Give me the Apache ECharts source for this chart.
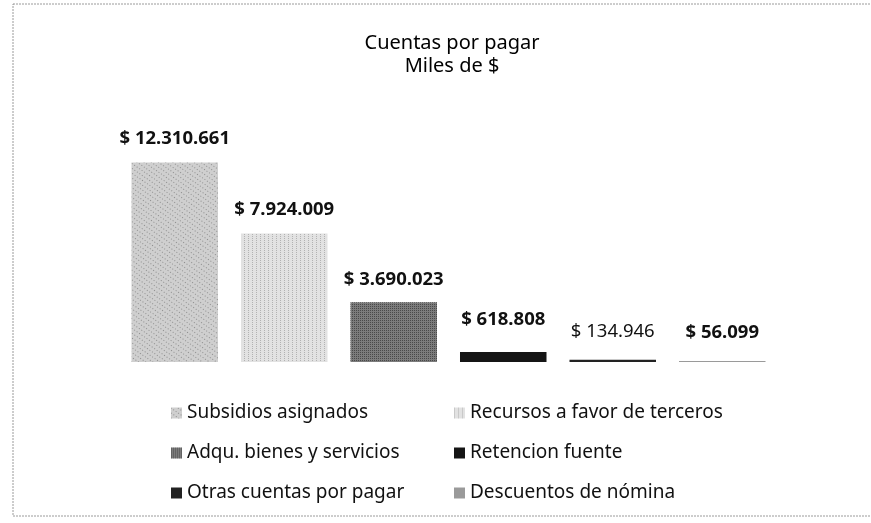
<!DOCTYPE html>
<html>
<head>
<meta charset="utf-8">
<script src="https://cdn.jsdelivr.net/npm/echarts@6/dist/echarts.min.js"></script>
<style>html,body{margin:0;padding:0;background:#fff;}#c{width:871px;height:523px;}</style>
</head>
<body>
<div id="c"></div>
<script>
const titleLines = ['Cuentas por pagar', 'Miles de $'];
const seriesNames = ['Subsidios asignados', 'Recursos a favor de terceros', 'Adqu. bienes y servicios', 'Retencion fuente', 'Otras cuentas por pagar', 'Descuentos de nómina'];
const values = [12310661, 7924009, 3690023, 618808, 134946, 56099];
const legendCol1 = ['Subsidios asignados', 'Adqu. bienes y servicios', 'Otras cuentas por pagar'];
const legendCol2 = ['Recursos a favor de terceros', 'Retencion fuente', 'Descuentos de nómina'];

const colors = ['#cfcfcf', '#e2e2e2', '#7c7c7c', '#151515', '#222222', '#9a9a9a'];
const decals = [
  {symbol:'rect', symbolSize:1, color:'rgba(90,90,90,0.55)', dashArrayX:[1,2], dashArrayY:[1,3], rotation:0.6},
  {symbol:'rect', symbolSize:1, color:'rgba(130,130,130,0.5)', dashArrayX:[1,3], dashArrayY:[1,1], rotation:0},
  {symbol:'rect', symbolSize:1, color:'rgba(40,40,40,0.6)', dashArrayX:[1,1], dashArrayY:[1,1], rotation:0},
  'none', 'none', 'none'
];
const labelDist = [14, 14, 13, 23, 19, 19];
const labelWeight = ['bold', 'bold', 'bold', 'bold', 'normal', 'bold'];

function fmt(v) {
  return '$ ' + String(v).replace(/\B(?=(\d{3})+(?!\d))/g, '.');
}

const font = '"Noto Sans", "Open Sans", sans-serif';
const chart = echarts.init(document.getElementById('c'));
const series = seriesNames.map((name, i) => ({
  name: name,
  type: 'bar',
  stack: 'all',
  barWidth: '79%',
  itemStyle: {color: colors[i], decal: decals[i] === 'none' ? undefined : decals[i]},
  label: {
    show: true, position: 'top', distance: labelDist[i],
    formatter: p => fmt(p.value),
    fontFamily: font, fontSize: 18.5, fontWeight: labelWeight[i], color: '#111'
  },
  data: values.map((v, j) => j === i ? v : '-')
}));

const legendText = {fontFamily: font, fontSize: 19, color: '#111', lineHeight: 22};
chart.setOption({
  animation: false,
  backgroundColor: '#fff',
  title: {
    text: titleLines.join('\n'),
    left: 447, top: 27, textAlign: 'center',
    textStyle: {fontFamily: font, fontSize: 20, fontWeight: 'normal', color: '#000', lineHeight: 23}
  },
  graphic: [{
    type: 'rect', shape: {x: 13, y: 4, width: 900, height: 512},
    style: {fill: 'none', stroke: '#9a9a9a', lineWidth: 1, lineDash: [2, 1]}, silent: true
  }],
  legend: [
    {data: legendCol1, orient: 'vertical', left: 166, top: 397, icon: 'rect', itemWidth: 11, itemHeight: 11, itemGap: 18,
     textStyle: legendText},
    {data: legendCol2, orient: 'vertical', left: 449, top: 397, icon: 'rect', itemWidth: 11, itemHeight: 11, itemGap: 18,
     textStyle: legendText}
  ],
  grid: {left: 120, right: 94, top: 135, bottom: 161},
  xAxis: {type: 'category', data: seriesNames, show: false},
  yAxis: {type: 'value', min: 0, max: 14000000, show: false},
  series: series
});
</script>
</body>
</html>
